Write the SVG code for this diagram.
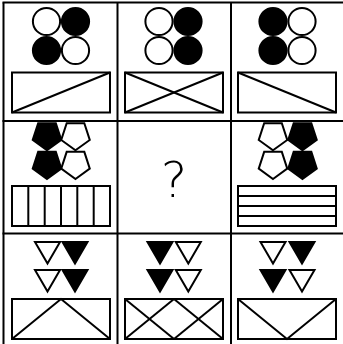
<svg xmlns="http://www.w3.org/2000/svg" xmlns:xlink="http://www.w3.org/1999/xlink" width="343" height="344" viewBox="0 0 343 344">
<style>
.ln{stroke:#000;stroke-width:2;fill:none}
.w{fill:#fff;stroke:#000;stroke-width:2}
.b{fill:#000;stroke:#000;stroke-width:2}
.box{fill:#fff;stroke:#000;stroke-width:2}
.q{font-family:"DejaVu Sans",sans-serif;font-weight:200;font-size:50px;text-anchor:middle}
</style>
<defs>
<circle id="c" r="13.6"/>
<path id="p" d="M0,15 L14.27,4.64 L8.82,-12.14 L-8.82,-12.14 L-14.27,4.64 Z"/>
<path id="t" d="M-12.5,0 L12.5,0 L0,21.6 Z"/>
</defs>
<rect width="343" height="344" fill="#fff"/>
<g id="grid" class="ln">
<line x1="3.5" y1="2.5" x2="3.5" y2="344"/>
<line x1="117.5" y1="2.5" x2="117.5" y2="344"/>
<line x1="231" y1="2.5" x2="231" y2="344"/>
<line x1="2.5" y1="2.5" x2="343" y2="2.5"/>
<line x1="2.5" y1="121" x2="343" y2="121"/>
<line x1="2.5" y1="233.5" x2="343" y2="233.5"/>
</g>
<g id="cell11">
<use href="#c" x="46.5" y="21.5" class="w"/>
<use href="#c" x="75.5" y="21.5" class="b"/>
<use href="#c" x="46.5" y="50.5" class="b"/>
<use href="#c" x="75.5" y="50.5" class="w"/>
<rect class="box" x="12" y="72.5" width="98" height="40"/>
<line class="ln" x1="12" y1="112.5" x2="110" y2="72.5"/>
</g>
<g id="cell12">
<use href="#c" x="159" y="21.5" class="w"/>
<use href="#c" x="188" y="21.5" class="b"/>
<use href="#c" x="159" y="50.5" class="w"/>
<use href="#c" x="188" y="50.5" class="b"/>
<rect class="box" x="125" y="72.5" width="98" height="40"/>
<line class="ln" x1="125" y1="72.5" x2="223" y2="112.5"/>
<line class="ln" x1="125" y1="112.5" x2="223" y2="72.5"/>
</g>
<g id="cell13">
<use href="#c" x="273" y="21.5" class="b"/>
<use href="#c" x="302" y="21.5" class="w"/>
<use href="#c" x="273" y="50.5" class="b"/>
<use href="#c" x="302" y="50.5" class="w"/>
<rect class="box" x="238" y="72.5" width="98" height="40"/>
<line class="ln" x1="238" y1="72.5" x2="336" y2="112.5"/>
</g>
<g id="cell21">
<use href="#p" x="47" y="135.3" class="b"/>
<use href="#p" x="75.5" y="135.3" class="w"/>
<use href="#p" x="47" y="164" class="b"/>
<use href="#p" x="75.5" y="164" class="w"/>
<rect class="box" x="12" y="186" width="98" height="40"/>
<g class="ln">
<line x1="28.3" y1="186" x2="28.3" y2="226"/>
<line x1="44.7" y1="186" x2="44.7" y2="226"/>
<line x1="61" y1="186" x2="61" y2="226"/>
<line x1="77.3" y1="186" x2="77.3" y2="226"/>
<line x1="93.7" y1="186" x2="93.7" y2="226"/>
</g>
</g>
<g id="cell22">
<text class="q" x="174" y="197">?</text>
</g>
<g id="cell23">
<use href="#p" x="273" y="135.3" class="w"/>
<use href="#p" x="302.5" y="135.3" class="b"/>
<use href="#p" x="273" y="164" class="w"/>
<use href="#p" x="302.5" y="164" class="b"/>
<rect class="box" x="238" y="186" width="98" height="40"/>
<g class="ln">
<line x1="238" y1="196" x2="336" y2="196"/>
<line x1="238" y1="206" x2="336" y2="206"/>
<line x1="238" y1="216" x2="336" y2="216"/>
</g>
</g>
<g id="cell31">
<use href="#t" x="47.5" y="242" class="w"/>
<use href="#t" x="75" y="242" class="b"/>
<use href="#t" x="47.5" y="270" class="w"/>
<use href="#t" x="75" y="270" class="b"/>
<rect class="box" x="12" y="299" width="98" height="40"/>
<polyline class="ln" points="12,339 61,299 110,339"/>
</g>
<g id="cell32">
<use href="#t" x="160" y="242" class="b"/>
<use href="#t" x="188.3" y="242" class="w"/>
<use href="#t" x="160" y="270" class="b"/>
<use href="#t" x="188.3" y="270" class="w"/>
<rect class="box" x="125" y="299" width="98" height="40"/>
<g class="ln">
<line x1="125" y1="299" x2="174" y2="339"/>
<line x1="125" y1="339" x2="174" y2="299"/>
<line x1="174" y1="299" x2="223" y2="339"/>
<line x1="174" y1="339" x2="223" y2="299"/>
</g>
</g>
<g id="cell33">
<use href="#t" x="273" y="242" class="w"/>
<use href="#t" x="302" y="242" class="b"/>
<use href="#t" x="273" y="270" class="b"/>
<use href="#t" x="302" y="270" class="w"/>
<rect class="box" x="238" y="299" width="98" height="40"/>
<polyline class="ln" points="238,299 287,339 336,299"/>
</g>
</svg>
